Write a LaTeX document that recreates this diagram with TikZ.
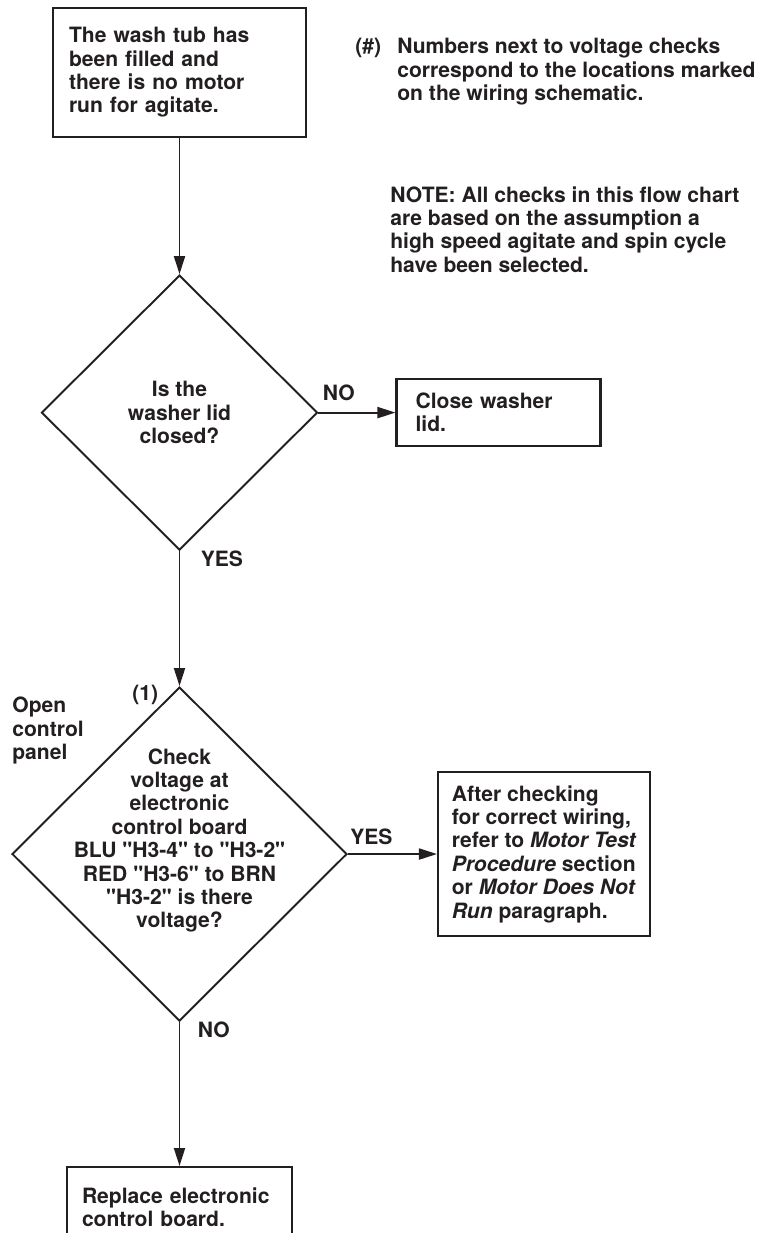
\documentclass[tikz,border=0pt]{standalone}
\usepackage{fontspec}
\setmainfont{TeX Gyre Heros}[Ligatures=TeXOff]
\usetikzlibrary{positioning}
\usetikzlibrary{calc}
\usetikzlibrary{arrows.meta}
\usetikzlibrary{shapes.geometric}
\definecolor{ink}{RGB}{35,31,32}
\newcommand{\chartfont}{\fontsize{12}{13.3}\selectfont\bfseries}

\begin{document}
\begin{tikzpicture}[
    box/.style={rectangle, draw=ink, line width=1.3pt, align=left, text=ink, font=\chartfont},
    decision/.style={diamond, draw=ink, line width=1.1pt, align=center, text=ink, font=\chartfont, inner sep=0pt},
    txt/.style={inner sep=0pt, align=left, text=ink, font=\chartfont},
    lbl/.style={inner sep=0pt, text=ink, font=\chartfont},
    flow/.style={->, draw=ink, line width=1.1pt},
    >={Triangle[length=3.6mm, width=2.2mm]}
]
    \useasboundingbox (0,0) rectangle (15.22,24.66);

    % --- Notes ---
    \node[lbl, anchor=north west] (hashlbl) at (7.10,23.90) {(\#)};
    \node[txt, anchor=north west] (hashnote) at (7.94,23.90) {Numbers next to voltage checks\\correspond to the locations marked\\on the wiring schematic.};
    \node[txt, anchor=north west] (note) at (7.80,20.94) {NOTE: All checks in this flow chart\\are based on the assumption a\\high speed agitate and spin cycle\\have been selected.};

    % --- Main flow ---
    \node[box, text width=4.42cm, inner xsep=0.32cm, minimum height=2.58cm] (start) at (3.59,23.21) {The wash tub has\\been filled and\\there is no motor\\run for agitate.};
    \node[decision, minimum width=5.52cm, minimum height=5.5cm, below=2.72cm of start] (lid) {Is the\\washer lid\\closed?};
    \node[box, text width=3.32cm, inner xsep=0.38cm, minimum height=1.34cm, right=1.54cm of lid] (close) {Close washer\\lid.};

    \node[decision, minimum width=6.7cm, minimum height=6.68cm, below=2.7cm of lid] (check) {};
    \node[txt, align=center] (checktxt) at ($(check.center)+(0,0.27)$) {Check\\voltage at\\electronic\\control board\\BLU "H3-4" to "H3-2"\\RED "H3-6" to BRN\\"H3-2" is there\\voltage?};
    \node[box, inner xsep=0.24cm, minimum width=4.24cm, minimum height=3.28cm, right=1.78cm of check] (motor) {After checking\\for correct wiring,\\refer to \textit{Motor Test}\\\textit{Procedure} section\\or \textit{Motor Does Not}\\\textit{Run} paragraph.};
    \node[box, text width=3.9cm, inner xsep=0.3cm, minimum height=1.6cm, below=2.88cm of check] (replace) {Replace electronic\\control board.};

    % --- Labels ---
    \node[lbl, anchor=base west] (lidno) at ($(lid.east)+(0.08,0.24)$) {NO};
    \node[lbl, anchor=base west] (lidyes) at ($(lid.south)+(0.42,-0.3)$) {YES};
    \node[lbl, anchor=base west] (checkyes) at ($(check.east)+(0.04,0.2)$) {YES};
    \node[lbl, anchor=base west] (checkno) at ($(check.south)+(0.36,-0.3)$) {NO};
    \node[lbl, anchor=base east] (checknum) at ($(check.north)+(-0.42,-0.28)$) {(1)};
    \node[txt, anchor=north west] (openpanel) at (0.24,10.72) {Open\\control\\panel};

    % --- Connectors ---
    \draw[flow] (start) -- (lid);
    \draw[flow] (lid) -- (close);
    \draw[flow] (lid) -- (check);
    \draw[flow] (check) -- (motor);
    \draw[flow] (check) -- (replace);
\end{tikzpicture}
\end{document}
